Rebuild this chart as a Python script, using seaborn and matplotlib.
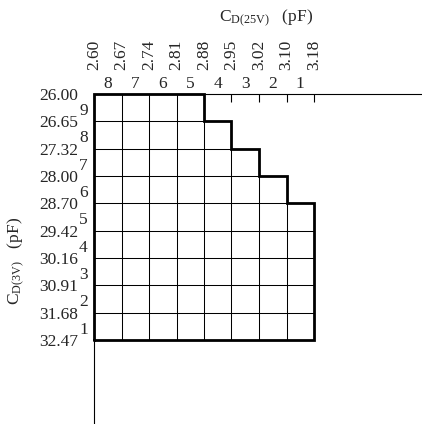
import numpy as np
import matplotlib
matplotlib.use("Agg")
import matplotlib.pyplot as plt
import seaborn as sns

# capacitance values at the grid boundaries
cd25_values = ["2.60", "2.67", "2.74", "2.81", "2.88", "2.95", "3.02", "3.10", "3.18"]
cd3_values = ["26.00", "26.65", "27.32", "28.00", "28.70", "29.42", "30.16", "30.91", "31.68", "32.47"]
# step numbers for the columns and rows
col_steps = [8, 7, 6, 5, 4, 3, 2, 1]
row_steps = [9, 8, 7, 6, 5, 4, 3, 2, 1]
# how many cells are usable in each row (top row first)
cells_per_row = [4, 5, 6, 7, 8, 8, 8, 8, 8]

sns.set_style("white")
plt.rcParams["font.family"] = ["Liberation Serif", "DejaVu Serif"]
plt.rcParams["mathtext.fontset"] = "custom"
plt.rcParams["mathtext.rm"] = "Liberation Serif"
plt.rcParams["mathtext.it"] = "Liberation Serif:italic"
FS = 12.5

nrows, ncols = len(row_steps), len(col_steps)
grid = np.ones((nrows, ncols))
mask = np.zeros_like(grid, dtype=bool)
for i, n in enumerate(cells_per_row):
    mask[i, n:] = True

W, H = 422, 424
fig = plt.figure(figsize=(W / 100, H / 100), dpi=100)
left_px, top_px = 94, 94
cell_w, cell_h = 27.5, 27.33
ax = fig.add_axes([left_px / W, 0, (W - left_px) / W, (H - top_px) / H])

# white cells only; the thin cell borders are drawn below
sns.heatmap(grid, mask=mask, cmap=["white"], cbar=False, linewidths=0,
            xticklabels=False, yticklabels=False, ax=ax)

# thin inner grid lines, limited to the usable cells of each row
for i, n in enumerate(cells_per_row):
    ax.hlines(i + 1, 0, n, color="black", lw=0.75)
    ax.vlines(np.arange(1, n), i, i + 1, color="black", lw=0.75)

ax.set_xlim(0, (W - left_px) / cell_w)
ax.set_ylim((H - top_px) / cell_h, 0)

# heavy outline around the usable region
xs, ys = [0, 0], [nrows, 0]
for i, n in enumerate(cells_per_row):
    xs += [n, n]
    ys += [i, i + 1]
xs.append(0)
ys.append(nrows)
ax.plot(xs, ys, color="black", lw=2.0, solid_joinstyle="miter", clip_on=False)

for side in ["top", "left"]:
    ax.spines[side].set_visible(True)
    ax.spines[side].set_color("black")
    ax.spines[side].set_linewidth(0.8)
for side in ["bottom", "right"]:
    ax.spines[side].set_visible(False)

ax.xaxis.tick_top()
ax.set_xticks(np.arange(len(cd25_values)))
ax.set_xticklabels(cd25_values, rotation=90, fontsize=FS)
ax.tick_params(axis="x", direction="in", length=6, width=0.8, color="black",
               pad=17, top=True, bottom=False)
ax.set_yticks(np.arange(len(cd3_values)))
ax.set_yticklabels(cd3_values, fontsize=FS)
ax.tick_params(axis="y", length=0, pad=11.5, left=True)

for j, s in enumerate(col_steps):
    ax.annotate(str(s), (j + 0.5, 0), xytext=(0, 4.3), textcoords="offset points",
                ha="center", va="baseline", fontsize=FS, annotation_clip=False)
for i, s in enumerate(row_steps):
    ax.annotate(str(s), (0, i + 0.5), xytext=(-4.5, -2.5), textcoords="offset points",
                ha="right", va="center", fontsize=FS, annotation_clip=False)

fig.text(219 / W, 1 - 22 / H, r"C$_{\mathrm{D(25V)}}$   (pF)", ha="left",
         va="baseline", fontsize=FS)
fig.text(16 / W, 1 - 261 / H, r"C$_{\mathrm{D(3V)}}$   (pF)", ha="center",
         va="center", rotation=90, fontsize=FS)

fig.savefig("out.png", dpi=100)
